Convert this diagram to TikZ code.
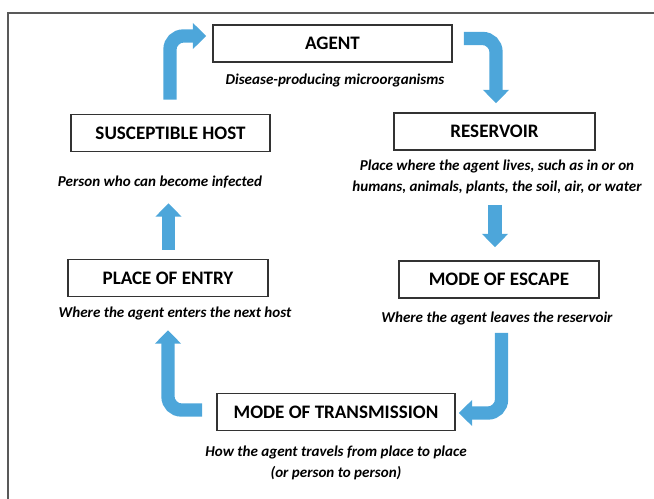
\documentclass[tikz,border=0pt]{standalone}
\usepackage{fontspec}
\setmainfont{Carlito}
\usetikzlibrary{arrows.meta,calc}
\definecolor{flowblue}{RGB}{77,166,218}
\tikzset{
  stage/.style={draw=black!80, line width=1.2pt, minimum height=27.75pt, inner sep=0pt,
    font=\fontsize{14.3}{16}\selectfont\bfseries},
  note/.style={align=center, font=\fontsize{11.3}{15.5}\selectfont\bfseries\itshape},
  flow/.style={draw=flowblue, line width=10pt, rounded corners=10pt,
    -{Triangle[width=19pt,length=10pt]}}
}
\begin{document}
\begin{tikzpicture}[x=0.75pt, y=-0.75pt]
    \useasboundingbox (0,0) rectangle (654,499);
    \draw[black!65, line width=1pt] (660,13) -- (8,13) -- (8,505);

    \node[stage, minimum width=179.25pt] (agent) at (332.5,43.5) {AGENT};
    \node[stage, minimum width=150.75pt] (reservoir) at (494.5,131.5) {RESERVOIR};
    \node[stage, minimum width=150pt] (escape) at (499,279.5) {MODE OF ESCAPE};
    \node[stage, minimum width=178.5pt] (transmission) at (336,412) {MODE OF TRANSMISSION};
    \node[stage, minimum width=150pt] (entry) at (168,278) {PLACE OF ENTRY};
    \node[stage, minimum width=149.25pt] (host) at (170.5,133) {SUSCEPTIBLE HOST};

    \node[note] (agentnote) at (335,80) {Disease-producing microorganisms};
    \node[note] (reservoirnote) at (497,177) {Place where the agent lives, such as in or on\\humans, animals, plants, the soil, air, or water};
    \node[note] (escapenote) at (497,318) {Where the agent leaves the reservoir};
    \node[note] (transmissionnote) at (336,463) {How the agent travels from place to place\\(or person to person)};
    \node[note] (entrynote) at (175,313) {Where the agent enters the next host};
    \node[note] (hostnote) at (160,182) {Person who can become infected};


    \draw[flow] ($(agent.east)+(11,-5)$) -| ($(reservoir.north)+(1.5,-9)$);
    \draw[flow] ($(reservoir.south)+(0.5,54)$) -- ($(escape.north)+(-4,-13)$);
    \draw[flow] ($(escape.south)+(2.5,34)$) |- ($(transmission.east)+(3,1)$);
    \draw[flow] ($(transmission.west)+(-14,-2)$) -| ($(entry.south)+(0,33)$);
    \draw[flow] ($(entry.north)+(0.5,-9)$) -- ($(host.south)+(-2,51)$);
    \draw[flow] ($(host.north)+(-0.5,-14)$) |- ($(agent.west)+(-6,-7.5)$);
  \end{tikzpicture}
\end{document}
